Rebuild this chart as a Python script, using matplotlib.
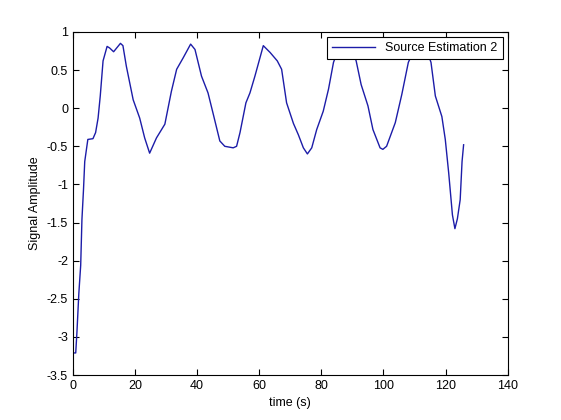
import matplotlib
matplotlib.use("Agg")
import matplotlib.pyplot as plt

# values
time_s = [0.2, 0.9, 1.3, 1.9, 2.5, 2.9, 3.4, 3.8, 4.8, 6.45, 7.3, 8.1, 8.8, 9.7,
          11.0, 11.8, 13.1, 15.3, 16.1, 17.2, 19.4, 21.5, 23.1, 24.7, 26.9, 29.6,
          31.7, 33.4, 35.5, 37.9, 39.3, 41.4, 43.5, 45.2, 47.3, 48.9, 51.6, 52.7,
          53.8, 55.7, 57.0, 58.6, 61.3, 63.5, 65.8, 67.2, 68.8, 71.0, 72.6, 74.2,
          75.5, 76.9, 78.5, 80.6, 82.3, 83.9, 85.5, 87.7, 90.0, 91.2, 92.8, 95.0,
          96.6, 98.9, 99.8, 101.0, 103.8, 105.9, 108.0, 110.0, 112.0, 114.0,
          115.3, 116.7, 118.8, 119.9, 121.0, 122.2, 123.0, 123.8, 124.7, 125.3,
          125.8]
amplitude = [-3.21, -3.21, -2.93, -2.43, -2.06, -1.46, -1.07, -0.70, -0.41, -0.40,
             -0.32, -0.13, 0.16, 0.62, 0.81, 0.79, 0.74, 0.85, 0.82, 0.55, 0.11,
             -0.13, -0.39, -0.59, -0.39, -0.21, 0.22, 0.51, 0.66, 0.84, 0.77, 0.42,
             0.20, -0.08, -0.43, -0.50, -0.52, -0.50, -0.32, 0.07, 0.20, 0.42,
             0.82, 0.73, 0.62, 0.51, 0.07, -0.20, -0.35, -0.52, -0.60, -0.52,
             -0.28, -0.04, 0.25, 0.60, 0.78, 0.84, 0.75, 0.62, 0.31, 0.03, -0.28,
             -0.52, -0.54, -0.50, -0.19, 0.18, 0.60, 0.78, 0.82, 0.75, 0.60, 0.16,
             -0.11, -0.41, -0.85, -1.40, -1.58, -1.45, -1.20, -0.70, -0.48]

plt.rcParams['font.family'] = ['Liberation Sans', 'DejaVu Sans']
plt.rcParams['font.size'] = 9

fig = plt.figure(figsize=(5.61, 4.2), dpi=100)
ax = fig.add_axes([0.13, 0.107, 0.775, 0.817])

ax.plot(time_s, amplitude, color='#1c1ca8', linewidth=1.0, label='Source Estimation 2')

ax.set_xlim(0, 140)
ax.set_ylim(-3.5, 1)
ax.set_xticks(range(0, 141, 20))
ax.set_yticks([-3.5, -3, -2.5, -2, -1.5, -1, -0.5, 0, 0.5, 1])
ax.set_yticklabels(['-3.5', '-3', '-2.5', '-2', '-1.5', '-1', '-0.5', '0', '0.5', '1'])
ax.tick_params(direction='in', top=True, right=True, length=4, width=0.8)
for s in ax.spines.values():
    s.set_linewidth(0.8)

ax.set_xlabel('time (s)')
ax.set_ylabel('Signal Amplitude')

leg = ax.legend(loc='upper right', fancybox=False, framealpha=1, edgecolor='black',
                borderaxespad=0.4, handlelength=3.5)
leg.get_frame().set_linewidth(0.8)

fig.savefig('out.png', dpi=100)
